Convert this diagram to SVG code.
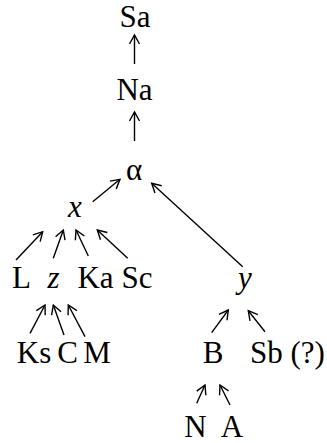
<svg xmlns="http://www.w3.org/2000/svg" width="327" height="443" viewBox="0 0 327 443">
<style>
.t text{font-size:31px;fill:#000;text-anchor:middle}
.t .i{font-style:italic}
.t .s{text-anchor:start}
.c line{stroke:#000;stroke-width:1.4;fill:none;marker-end:url(#ah)}
</style>
<defs>
<marker id="ah" markerUnits="userSpaceOnUse" viewBox="-10 -6 12 12" markerWidth="12" markerHeight="12" refX="0" refY="0" orient="auto">
<path d="M-9,-5 L0,0 L-9,5" fill="none" stroke="#000" stroke-width="1.4"/>
</marker>
</defs>
<rect width="327" height="443" fill="#fff"/>
<g class="t" font-family="'Liberation Serif', 'Times New Roman', Times, serif">
<g id="Sa"><text x="135" y="27">Sa</text></g>
<g id="Na"><text x="134.5" y="100">Na</text></g>
<g id="alpha"><text x="134" y="180">α</text></g>
<g id="x"><text class="i" x="75" y="217">x</text></g>
<g id="L"><text class="s" x="12" y="288">L</text></g>
<g id="z"><text class="i" x="53.5" y="288">z</text></g>
<g id="Ka"><text x="95.5" y="288">Ka</text></g>
<g id="Sc"><text x="137" y="288">Sc</text></g>
<g id="y"><text class="i" x="245" y="288">y</text></g>
<g id="Ks"><text x="34" y="363">Ks</text></g>
<g id="C"><text x="67.5" y="363">C</text></g>
<g id="M"><text x="97" y="363">M</text></g>
<g id="B"><text x="213" y="363">B</text></g>
<g id="Sb"><text class="s" x="250" y="363">Sb (?)</text></g>
<g id="N"><text x="195.5" y="437">N</text></g>
<g id="A"><text x="232" y="437">A</text></g>
</g>
<g id="connectors" class="c">
<line x1="134.5" y1="64" x2="134.5" y2="35"/>
<line x1="134.5" y1="141" x2="134.5" y2="112"/>
<line x1="92.7" y1="201.7" x2="120" y2="179.3"/>
<line x1="242.7" y1="266.7" x2="151.7" y2="183.3"/>
<line x1="16" y1="260" x2="42.7" y2="231.7"/>
<line x1="53.3" y1="258.3" x2="63.3" y2="230"/>
<line x1="88.3" y1="256" x2="76" y2="230"/>
<line x1="127.7" y1="258.3" x2="97.3" y2="230"/>
<line x1="30" y1="333.3" x2="45" y2="305"/>
<line x1="64" y1="335" x2="53.3" y2="305"/>
<line x1="85" y1="336.7" x2="68.3" y2="305"/>
<line x1="211.7" y1="332.7" x2="228.3" y2="310"/>
<line x1="265" y1="331.7" x2="248.3" y2="310.7"/>
<line x1="196.7" y1="403.3" x2="205" y2="385"/>
<line x1="230" y1="405" x2="220" y2="385"/>
</g>
</svg>
